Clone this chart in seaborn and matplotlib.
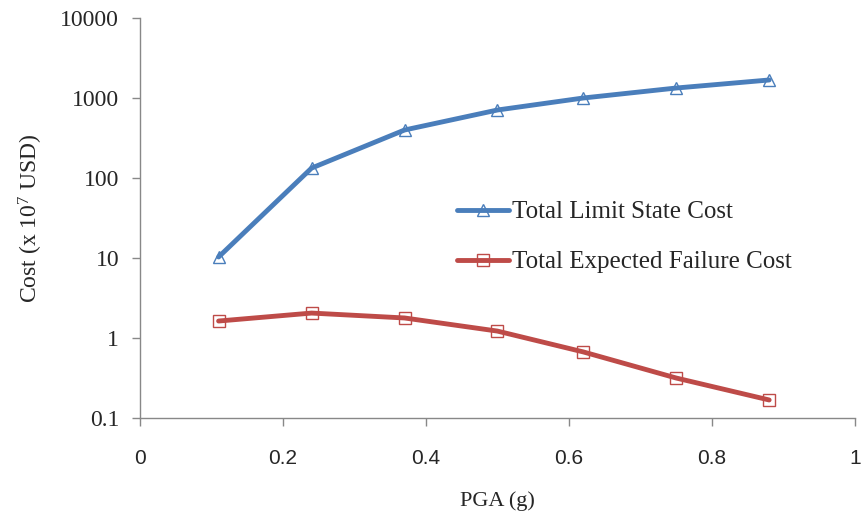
import matplotlib
matplotlib.use("Agg")
import matplotlib.pyplot as plt
import seaborn as sns
import pandas as pd
from matplotlib.ticker import FixedLocator, FixedFormatter, NullLocator

pga = [0.11, 0.24, 0.37, 0.50, 0.62, 0.75, 0.88]
limit_state_cost = [10.3, 133, 398, 708, 1000, 1333, 1680]
expected_failure_cost = [1.63, 2.05, 1.78, 1.22, 0.67, 0.316, 0.168]
series_names = ["Total Limit State Cost", "Total Expected Failure Cost"]
y_ticks = [0.1, 1, 10, 100, 1000, 10000]
y_tick_labels = ["0.1", "1", "10", "100", "1000", "10000"]
x_ticks = [0, 0.2, 0.4, 0.6, 0.8, 1]
x_tick_labels = ["0", "0.2", "0.4", "0.6", "0.8", "1"]

df = pd.concat([
    pd.DataFrame({"PGA": pga, "Cost": limit_state_cost, "Series": series_names[0]}),
    pd.DataFrame({"PGA": pga, "Cost": expected_failure_cost, "Series": series_names[1]}),
])

sns.set_style("white")
plt.rcParams["font.family"] = ["Liberation Serif", "DejaVu Serif"]
plt.rcParams["mathtext.fontset"] = "custom"
plt.rcParams["mathtext.rm"] = "Liberation Serif"
plt.rcParams["mathtext.it"] = "Liberation Serif:italic"
plt.rcParams["mathtext.bf"] = "Liberation Serif:bold"

fig = plt.figure(figsize=(8.65, 5.19), dpi=100)
ax = fig.add_axes([0.1618, 0.1946, 0.8266, 0.7707])

palette = {series_names[0]: "#4a7ebb", series_names[1]: "#be4b48"}
markers = {series_names[0]: "^", series_names[1]: "s"}
sns.lineplot(data=df, x="PGA", y="Cost", hue="Series", style="Series",
             palette=palette, markers=markers, dashes=False, linewidth=3.5,
             markersize=9, markeredgewidth=1.0,
             ax=ax, legend=True)
for line, name in zip(ax.get_lines(), series_names):
    line.set_markeredgecolor(palette[name])
    line.set_markerfacecolor("none")

ax.set_yscale("log")
ax.set_ylim(0.1, 10000)
ax.set_xlim(0, 1)
ax.yaxis.set_major_locator(FixedLocator(y_ticks))
ax.yaxis.set_major_formatter(FixedFormatter(y_tick_labels))
ax.yaxis.set_minor_locator(NullLocator())
ax.xaxis.set_major_locator(FixedLocator(x_ticks))
ax.xaxis.set_major_formatter(FixedFormatter(x_tick_labels))

for s in ["top", "right"]:
    ax.spines[s].set_visible(False)
for s in ["left", "bottom"]:
    ax.spines[s].set_color("#888888")
    ax.spines[s].set_linewidth(1.0)
ax.tick_params(axis="both", which="major", direction="out", length=6,
               width=1, color="#888888", left=True, bottom=True)
ax.tick_params(axis="y", labelsize=17, pad=9)
ax.tick_params(axis="x", labelsize=15, pad=16)
for lbl in ax.get_xticklabels():
    lbl.set_family(["Liberation Sans Narrow", "Liberation Sans", "DejaVu Sans"])

ax.set_xlabel("PGA (g)", fontsize=16, labelpad=17)
ax.set_ylabel("Cost (x 10$^7$ USD)", fontsize=17, labelpad=11)

handles, labels = ax.get_legend_handles_labels()
for h, name in zip(handles, series_names):
    h.set_markeredgecolor(palette[name])
    h.set_markerfacecolor("none")
ax.legend(handles, labels, loc="upper left", bbox_to_anchor=(0.443, 0.543),
          frameon=False, fontsize=18, handlelength=2.08, handletextpad=0.12,
          labelspacing=1.1, borderaxespad=0, borderpad=0)

fig.savefig("out.png", dpi=100)
